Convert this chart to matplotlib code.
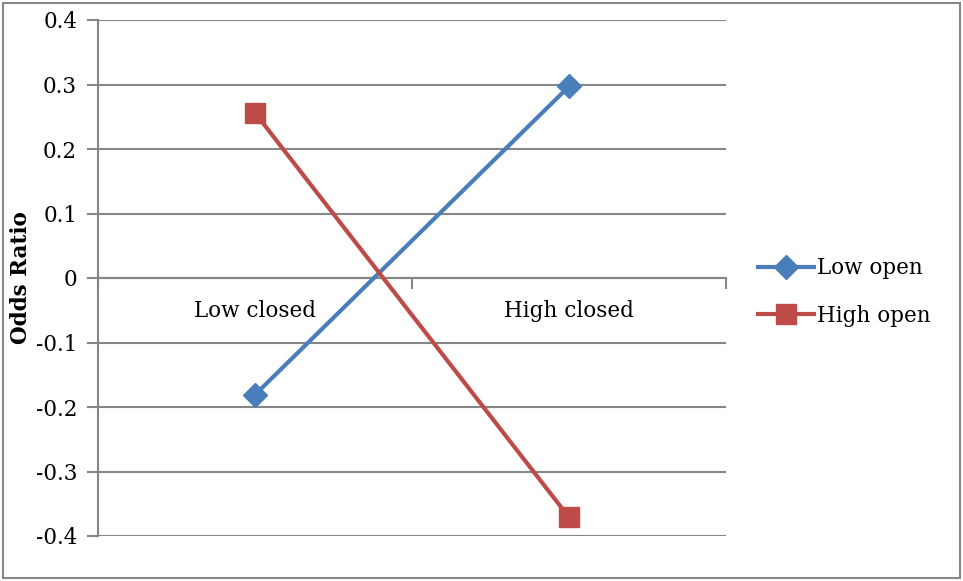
import matplotlib.pyplot as plt
from matplotlib.patches import Rectangle

# Category labels and odds ratios for the two series
categories = ["Low closed", "High closed"]
low_open = [-0.181, 0.297]
high_open = [0.256, -0.371]
y_ticks = [0.4, 0.3, 0.2, 0.1, 0.0, -0.1, -0.2, -0.3, -0.4]
y_tick_labels = ["0.4", "0.3", "0.2", "0.1", "0", "-0.1", "-0.2", "-0.3", "-0.4"]

BLUE = "#4A7EBB"
RED = "#BE4B48"
GRID = "#868686"
FONT = "DejaVu Serif"
FS = 15.5

plt.rcParams["font.family"] = FONT

fig = plt.figure(figsize=(9.63, 5.81), dpi=100)
ax = fig.add_axes([98 / 963, 1 - 536 / 581, (726 - 98) / 963, (536 - 20) / 581])

x = list(range(1, len(categories) + 1))
ax.plot(x, low_open, color=BLUE, linewidth=3, marker="D", markersize=12,
        label="Low open", zorder=3)
ax.plot(x, high_open, color=RED, linewidth=3, marker="s", markersize=14,
        label="High open", zorder=3)

ax.set_xlim(0.5, len(categories) + 0.5)
ax.set_ylim(-0.4, 0.4)

# horizontal gridlines
ax.set_yticks(y_ticks)
ax.set_yticklabels(y_tick_labels, fontsize=FS)
ax.yaxis.grid(True, color=GRID, linewidth=1.5)
ax.tick_params(axis="y", direction="out", length=8, width=1.5, color=GRID, pad=7)

# category axis crossing at zero, ticks between categories
for side in ("top", "right"):
    ax.spines[side].set_visible(False)
ax.spines["left"].set_color(GRID)
ax.spines["left"].set_linewidth(1.5)
ax.spines["bottom"].set_position(("data", 0))
ax.spines["bottom"].set_color(GRID)
ax.spines["bottom"].set_linewidth(1.5)
ax.set_xticks([i + 0.5 for i in range(0, len(categories) + 1)])
ax.set_xticklabels([])
ax.tick_params(axis="x", direction="out", length=8, width=1.5, color=GRID)
ax.set_xticks(x, minor=True)
ax.set_xticklabels(categories, minor=True, fontsize=FS)
ax.tick_params(axis="x", which="minor", length=0, pad=16)

ax.set_ylabel("Odds Ratio", fontsize=FS, fontweight="bold", labelpad=3)

leg = fig.legend(handles=ax.get_lines(), loc="center left",
                 bbox_to_anchor=(758 / 963, 1 - 292 / 581), frameon=False,
                 fontsize=FS, handlelength=2.6, handletextpad=0.15,
                 labelspacing=1.2, borderaxespad=0, borderpad=0)

# outer chart border
fig.patches.append(Rectangle((3 / 963, 3 / 581), 957 / 963, 575 / 581,
                             transform=fig.transFigure, fill=False,
                             edgecolor=GRID, linewidth=1.5))

fig.savefig("out.png", dpi=100)
